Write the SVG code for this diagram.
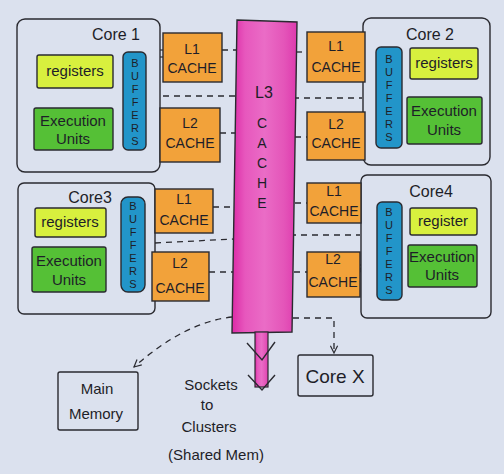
<svg xmlns="http://www.w3.org/2000/svg" width="504" height="474" viewBox="0 0 504 474">
<defs>
<style>
.bg{fill:#dbe1ee}
.core{fill:#dbe1ee;stroke:#2a2a30;stroke-width:1.4}
.reg{fill:#d8f03e;stroke:#2a2a30;stroke-width:1.4}
.exe{fill:#55c036;stroke:#2a2a30;stroke-width:1.4}
.buf{fill:#2295c9;stroke:#2a2a30;stroke-width:1.4}
.cache{fill:#f2a23a;stroke:#2a2a30;stroke-width:1.4}
.box{fill:none;stroke:#2a2a30;stroke-width:1.4}
.t{font-family:"Liberation Sans",Arial,sans-serif;fill:#1e1e28;text-anchor:middle}
.lbl{font-size:16px}
.sm{font-size:15px}
.ca{font-size:14px}
.bl{font-size:11px}
.dash{fill:none;stroke:#2a2a30;stroke-width:1.3;stroke-dasharray:6 5}
.arr{fill:none;stroke:#2a2a30;stroke-width:1.2;marker-end:url(#ah)}
.chev{fill:none;stroke:#2a2a30;stroke-width:1.4}
</style>
<marker id="ah" viewBox="0 0 10 10" refX="9" refY="5" markerWidth="6" markerHeight="6" orient="auto" markerUnits="userSpaceOnUse">
<path d="M1,1 L9,5 L1,9" fill="none" stroke="#2a2a30" stroke-width="1.5"/>
</marker>
<marker id="ahd" viewBox="0 0 10 10" refX="9" refY="5" markerWidth="9" markerHeight="9" orient="auto" markerUnits="userSpaceOnUse">
<path d="M1,1 L9,5 L1,9" fill="none" stroke="#2a2a30" stroke-width="1.3"/>
</marker>
<linearGradient id="mag" x1="0" y1="0" x2="1" y2="0">
<stop offset="0" stop-color="#dc2aa6"/>
<stop offset="0.2" stop-color="#e757bd"/>
<stop offset="0.5" stop-color="#ea6cc6"/>
<stop offset="0.8" stop-color="#e455b9"/>
<stop offset="1" stop-color="#de3aae"/>
</linearGradient>
</defs>
<rect class="bg" x="0" y="0" width="504" height="474"/>

<g id="connectors">
<path class="arr" d="M150,50 L170,50"/><path class="arr" d="M170,57 L150,57"/>
<path class="arr" d="M147,122 L167,122"/><path class="arr" d="M167,128 L147,128"/>
<path class="arr" d="M360,47 L374,47"/><path class="arr" d="M374,53 L360,53"/>
<path class="arr" d="M358,125 L374,125"/><path class="arr" d="M374,130 L358,130"/>
<path class="arr" d="M142,209 L162,209"/><path class="arr" d="M162,218 L142,218"/>
<path class="arr" d="M140,270 L160,270"/><path class="arr" d="M160,277 L140,277"/>
<path class="arr" d="M360,197 L373,197"/><path class="arr" d="M373,202 L360,202"/>
<path class="arr" d="M357,265 L375,265"/><path class="arr" d="M375,270 L357,270"/>
<path class="dash" d="M222,50 L237,50"/>
<path class="dash" d="M163,96 L236,96"/>
<path class="dash" d="M220,133 L236,133"/>
<path class="dash" d="M296,52 L307,52"/>
<path class="dash" d="M293,98 L362,98"/>
<path class="dash" d="M295,137 L307,137"/>
<path class="dash" d="M213,207 L234,207"/>
<path class="dash" d="M155,243 L234,239"/>
<path class="dash" d="M209,272 L233,272"/>
<path class="dash" d="M295,203 L307,203"/>
<path class="dash" d="M290,235 L360,235"/>
<path class="dash" d="M294,272 L307,272"/>
<path class="dash" d="M232,317 Q185,322 134,367" marker-end="url(#ahd)"/>
<path class="dash" d="M293,318 L334,318 L334,353" marker-end="url(#ahd)"/>
</g>

<g id="L3">
<polygon points="237,20 297,22 292,332 232,333" fill="url(#mag)" stroke="#2a2a30" stroke-width="1.4"/>
<rect x="255" y="332" width="13" height="55" fill="url(#mag)" stroke="#2a2a30" stroke-width="1.2"/>
<path class="chev" d="M247,343 L262,360 L275,342"/>
<path class="chev" d="M248,375 L262,390 L275,375"/>
<text class="t lbl" x="264" y="98">L3</text>
<text class="t ca" x="262" y="128">C</text>
<text class="t ca" x="262" y="148">A</text>
<text class="t ca" x="262" y="168">C</text>
<text class="t ca" x="262" y="188">H</text>
<text class="t ca" x="262" y="208">E</text>
</g>

<g id="core1">
<rect class="core" x="17" y="19" width="143" height="153" rx="8"/>
<text class="t lbl" x="116" y="40">Core 1</text>
<rect class="reg" x="37" y="55" width="76" height="33" rx="2"/>
<text class="t sm" x="75" y="76">registers</text>
<rect class="exe" x="34" y="108" width="79" height="42" rx="2"/>
<text class="t sm" x="73" y="126">Execution</text>
<text class="t sm" x="73" y="144">Units</text>
<rect class="buf" x="123" y="52" width="23" height="98" rx="5"/>
<text class="t bl" x="135" y="67">B</text><text class="t bl" x="135" y="80">U</text><text class="t bl" x="135" y="93">F</text><text class="t bl" x="135" y="106">F</text><text class="t bl" x="135" y="119">E</text><text class="t bl" x="135" y="132">R</text><text class="t bl" x="135" y="145">S</text>
</g>
<g id="core1-L1"><rect class="cache" x="163" y="33" width="59" height="49"/><text class="t ca" x="192" y="54">L1</text><text class="t ca" x="192" y="73">CACHE</text></g>
<g id="core1-L2"><rect class="cache" x="160" y="108" width="60" height="54"/><text class="t ca" x="190" y="128">L2</text><text class="t ca" x="190" y="148">CACHE</text></g>

<g id="core2">
<rect class="core" x="363" y="18" width="127" height="147" rx="8"/>
<text class="t lbl" x="430" y="40">Core 2</text>
<rect class="reg" x="410" y="48" width="68" height="31" rx="2"/>
<text class="t sm" x="444" y="68">registers</text>
<rect class="exe" x="407" y="97" width="75" height="47" rx="2"/>
<text class="t sm" x="444" y="116">Execution</text>
<text class="t sm" x="444" y="135">Units</text>
<rect class="buf" x="376" y="47" width="26" height="101" rx="5"/>
<text class="t bl" x="389" y="63">B</text><text class="t bl" x="389" y="76">U</text><text class="t bl" x="389" y="89">F</text><text class="t bl" x="389" y="102">F</text><text class="t bl" x="389" y="115">E</text><text class="t bl" x="389" y="128">R</text><text class="t bl" x="389" y="141">S</text>
</g>
<g id="core2-L1"><rect class="cache" x="307" y="32" width="58" height="50"/><text class="t ca" x="336" y="51">L1</text><text class="t ca" x="336" y="72">CACHE</text></g>
<g id="core2-L2"><rect class="cache" x="307" y="112" width="58" height="48"/><text class="t ca" x="336" y="129">L2</text><text class="t ca" x="336" y="148">CACHE</text></g>

<g id="core3">
<rect class="core" x="18" y="183" width="137" height="131" rx="6"/>
<text class="t lbl" x="90" y="203">Core3</text>
<rect class="reg" x="35" y="208" width="71" height="29" rx="2"/>
<text class="t sm" x="70" y="227">registers</text>
<rect class="exe" x="32" y="247" width="74" height="45" rx="2"/>
<text class="t sm" x="69" y="266">Execution</text>
<text class="t sm" x="69" y="285">Units</text>
<rect class="buf" x="121" y="197" width="24" height="95" rx="7"/>
<text class="t bl" x="133" y="210">B</text><text class="t bl" x="133" y="223">U</text><text class="t bl" x="133" y="236">F</text><text class="t bl" x="133" y="249">F</text><text class="t bl" x="133" y="262">E</text><text class="t bl" x="133" y="275">R</text><text class="t bl" x="133" y="288">S</text>
</g>
<g id="core3-L1"><rect class="cache" x="155" y="189" width="58" height="44"/><text class="t ca" x="184" y="204">L1</text><text class="t ca" x="184" y="225">CACHE</text></g>
<g id="core3-L2"><rect class="cache" x="152" y="252" width="57" height="49"/><text class="t ca" x="180" y="268">L2</text><text class="t ca" x="180" y="293">CACHE</text></g>

<g id="core4">
<rect class="core" x="361" y="175" width="130" height="143" rx="6"/>
<text class="t lbl" x="431" y="197">Core4</text>
<rect class="reg" x="410" y="208" width="67" height="27" rx="2"/>
<text class="t sm" x="443" y="226">register</text>
<rect class="exe" x="408" y="245" width="69" height="42" rx="2"/>
<text class="t sm" x="442" y="262">Execution</text>
<text class="t sm" x="442" y="280">Units</text>
<rect class="buf" x="377" y="202" width="25" height="98" rx="5"/>
<text class="t bl" x="389" y="216">B</text><text class="t bl" x="389" y="229">U</text><text class="t bl" x="389" y="242">F</text><text class="t bl" x="389" y="255">F</text><text class="t bl" x="389" y="268">E</text><text class="t bl" x="389" y="281">R</text><text class="t bl" x="389" y="294">S</text>
</g>
<g id="core4-L1"><rect class="cache" x="307" y="183" width="54" height="40"/><text class="t ca" x="334" y="196">L1</text><text class="t ca" x="334" y="216">CACHE</text></g>
<g id="core4-L2"><rect class="cache" x="307" y="252" width="53" height="45"/><text class="t ca" x="333" y="264">L2</text><text class="t ca" x="333" y="287">CACHE</text></g>

<g id="main-memory">
<rect class="box" x="58" y="372" width="80" height="58" rx="2"/>
<text class="t sm" x="97" y="394">Main</text>
<text class="t sm" x="96" y="419">Memory</text>
</g>
<g id="core-x">
<rect class="box" x="298" y="355" width="75" height="41" rx="2"/>
<text class="t" style="font-size:19px" x="335" y="383">Core X</text>
</g>
<g id="sockets">
<text class="t sm" x="211" y="390">Sockets</text>
<text class="t sm" x="207" y="410">to</text>
<text class="t sm" x="209" y="432">Clusters</text>
<text class="t sm" x="216" y="460">(Shared Mem)</text>
</g>
</svg>
